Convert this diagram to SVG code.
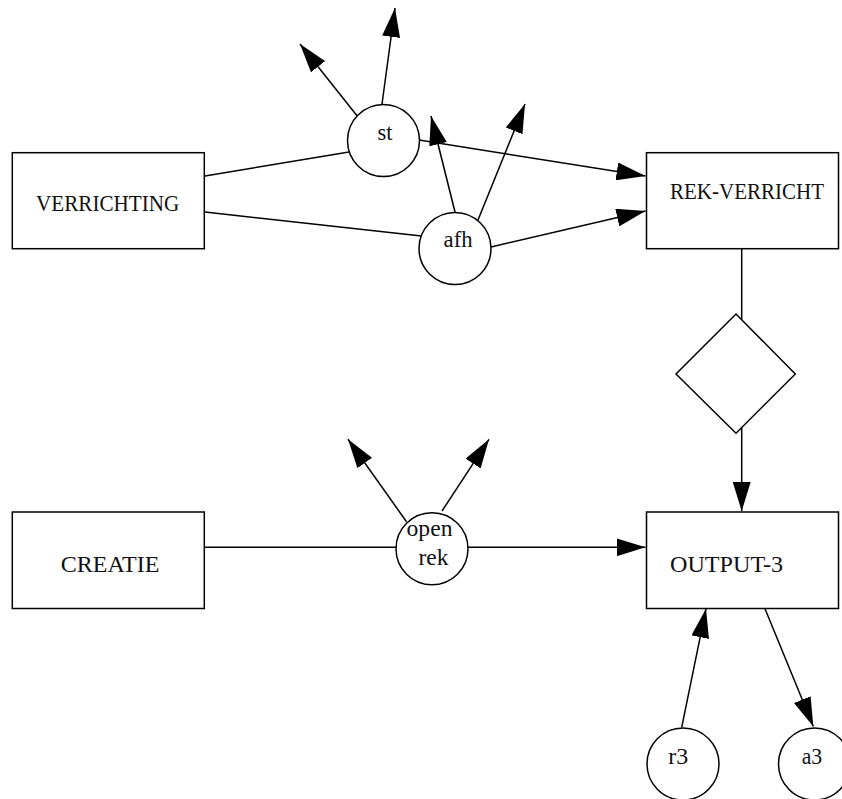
<svg xmlns="http://www.w3.org/2000/svg" width="842" height="799" viewBox="0 0 842 799">
  <style>
    .box { fill: #fff; stroke: #000; stroke-width: 1.5; }
    .place { fill: #fff; stroke: #000; stroke-width: 1.5; }
    .edge { fill: none; stroke: #000; stroke-width: 1.5; }
    .arrow { marker-end: url(#head); }
    text { font-family: "Liberation Serif", "Times New Roman", serif; font-size: 23px; fill: #111; }
  </style>
  <defs>
    <marker id="head" markerUnits="userSpaceOnUse" markerWidth="29" markerHeight="18" refX="29" refY="9" orient="auto">
      <path d="M0,0 L29,9 L0,18 Z" fill="#000"/>
    </marker>
  </defs>
  <rect width="842" height="799" fill="#fff"/>

  <!-- connectors -->
  <g id="connectors">
    <line class="edge" x1="205" y1="176" x2="349" y2="152"/>
    <line class="edge arrow" x1="419" y1="140" x2="645.5" y2="176"/>
    <line class="edge" x1="205" y1="212" x2="421.5" y2="236"/>
    <line class="edge arrow" x1="491" y1="247" x2="645.5" y2="211"/>
    <line class="edge arrow" x1="358" y1="117" x2="300" y2="44"/>
    <line class="edge arrow" x1="382" y1="104" x2="395" y2="8"/>
    <line class="edge arrow" x1="455" y1="212" x2="431" y2="116"/>
    <line class="edge arrow" x1="478" y1="220" x2="525" y2="104"/>
    <line class="edge" x1="741.7" y1="249" x2="741.7" y2="320"/>
    <line class="edge arrow" x1="741.7" y1="427" x2="741.7" y2="511"/>
    <line class="edge" x1="205" y1="547.3" x2="396" y2="547.3"/>
    <line class="edge arrow" x1="468" y1="547.3" x2="645.5" y2="547.3"/>
    <line class="edge arrow" x1="406.5" y1="521.7" x2="348" y2="439.3"/>
    <line class="edge arrow" x1="442" y1="511" x2="489" y2="439.3"/>
    <line class="edge arrow" x1="681.7" y1="727.3" x2="706" y2="608.7"/>
    <line class="edge arrow" x1="765" y1="608.7" x2="813.3" y2="726.5"/>
  </g>

  <g id="verrichting">
    <rect class="box" x="12.3" y="152.7" width="192" height="96"/>
    <text x="36" y="210.7" textLength="143.3" lengthAdjust="spacingAndGlyphs">VERRICHTING</text>
  </g>
  <g id="rek-verricht">
    <rect class="box" x="646.5" y="152.7" width="192" height="96"/>
    <text x="670" y="198.5" textLength="154" lengthAdjust="spacingAndGlyphs">REK-VERRICHT</text>
  </g>
  <g id="creatie">
    <rect class="box" x="12.3" y="512" width="192" height="96.5"/>
    <text x="60.7" y="571.7" textLength="98.8" lengthAdjust="spacingAndGlyphs">CREATIE</text>
  </g>
  <g id="output-3">
    <rect class="box" x="646.5" y="512" width="192" height="96.5"/>
    <text x="670" y="571.7" textLength="113" lengthAdjust="spacingAndGlyphs">OUTPUT-3</text>
  </g>

  <g id="st">
    <circle class="place" cx="383.5" cy="140.5" r="36"/>
    <text x="377.5" y="140" textLength="15" lengthAdjust="spacingAndGlyphs">st</text>
  </g>
  <g id="afh">
    <circle class="place" cx="455" cy="248.5" r="36"/>
    <text x="443.6" y="246.7" textLength="29" lengthAdjust="spacingAndGlyphs">afh</text>
  </g>
  <g id="open-rek">
    <circle class="place" cx="432" cy="548.7" r="36"/>
    <text x="406.5" y="536" textLength="46" lengthAdjust="spacingAndGlyphs">open</text>
    <text x="418.4" y="565" textLength="30" lengthAdjust="spacingAndGlyphs">rek</text>
  </g>

  <g id="choice">
    <polygon class="place" points="736,314 795.3,374 736,433.3 676,374"/>
  </g>

  <g id="r3">
    <circle class="place" cx="683" cy="764" r="36"/>
    <text x="668.3" y="764" textLength="20" lengthAdjust="spacingAndGlyphs">r3</text>
  </g>
  <g id="a3">
    <circle class="place" cx="814.5" cy="764" r="36"/>
    <text x="801.7" y="764" textLength="20.6" lengthAdjust="spacingAndGlyphs">a3</text>
  </g>
</svg>
